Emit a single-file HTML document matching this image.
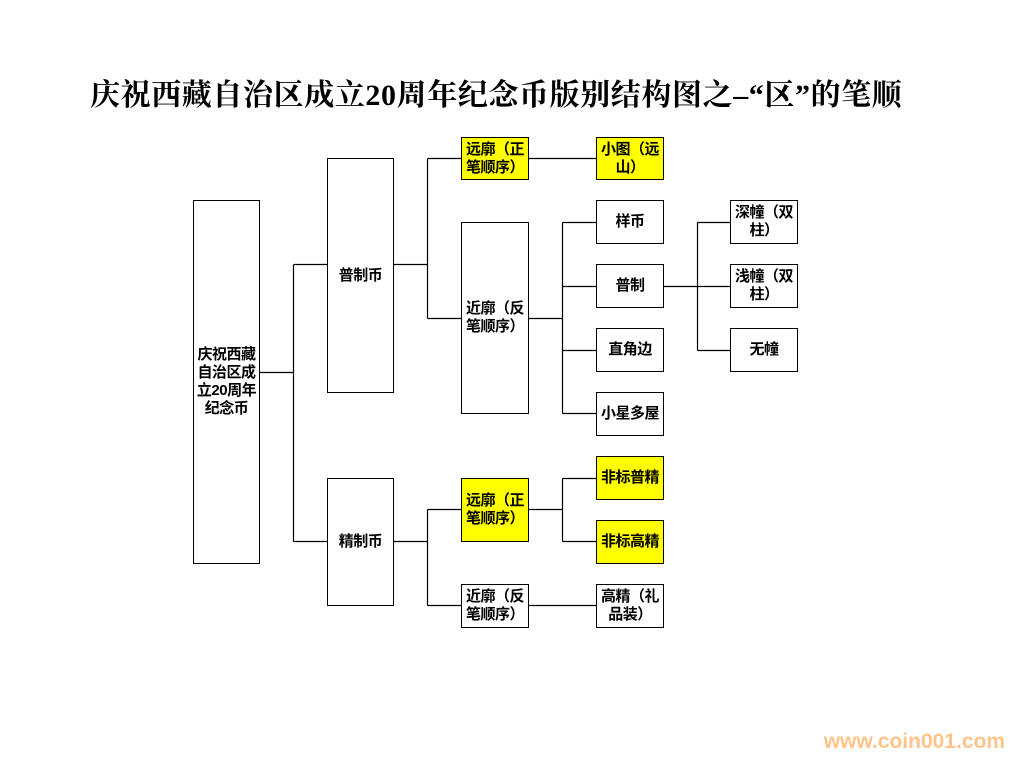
<!DOCTYPE html><html><head><meta charset="utf-8"><style>
body{margin:0;width:1018px;height:771px;background:#fff;position:relative;overflow:hidden;font-family:"Liberation Sans","Noto Sans CJK SC",sans-serif}
.b{position:absolute;box-sizing:border-box;border:1px solid #000;background:#fff;display:flex;align-items:center;justify-content:center;text-align:center;font-size:15px;font-weight:bold;line-height:18px;color:#000;white-space:nowrap;letter-spacing:-0.5px}
.y{background:#ffff00}
.t{position:absolute;left:90px;top:70px;font-size:30px;font-family:"Liberation Serif","Noto Serif CJK SC",serif;font-weight:bold;white-space:nowrap;letter-spacing:0.6px}
.w{position:absolute;right:13px;top:730px;font-size:21px;font-weight:bold;color:#ffc48a}
svg{position:absolute;left:0;top:0}
</style></head><body>
<div class="t">庆祝西藏自治区成立20周年纪念币版别结构图之–“区”的笔顺</div>
<svg width="1018" height="771"><g stroke="#000" stroke-width="1.2" fill="none" transform="translate(0.5,0.5)">
<path d="M259 372H293M293 264V541M293 264H327M293 541H327"/>
<path d="M393 264H427M427 158V318M427 158H461M427 318H461"/>
<path d="M528 158H596"/>
<path d="M528 318H562M562 222V413M562 222H596M562 286H596M562 350H596M562 413H596"/>
<path d="M663 286H697M697 222V350M697 222H730M697 286H730M697 350H730"/>
<path d="M393 541H427M427 509V605M427 509H461M427 605H461"/>
<path d="M528 509H562M562 478V541M562 478H596M562 541H596"/>
<path d="M528 605H596"/>
</g></svg>
<div class="b" style="left:193px;top:200px;width:67px;height:364px">庆祝西藏<br>自治区成<br>立20周年<br>纪念币</div>
<div class="b" style="left:327px;top:158px;width:67px;height:235px">普制币</div>
<div class="b" style="left:327px;top:478px;width:67px;height:128px">精制币</div>
<div class="b y" style="left:461px;top:137px;width:68px;height:43px">远廓（正<br>笔顺序）</div>
<div class="b" style="left:461px;top:222px;width:68px;height:192px">近廓（反<br>笔顺序）</div>
<div class="b y" style="left:596px;top:137px;width:68px;height:43px">小图（远<br>山）</div>
<div class="b" style="left:596px;top:200px;width:68px;height:44px">样币</div>
<div class="b" style="left:596px;top:264px;width:68px;height:44px">普制</div>
<div class="b" style="left:596px;top:328px;width:68px;height:44px">直角边</div>
<div class="b" style="left:596px;top:392px;width:68px;height:44px">小星多屋</div>
<div class="b" style="left:730px;top:200px;width:68px;height:44px">深幢（双<br>柱）</div>
<div class="b" style="left:730px;top:264px;width:68px;height:44px">浅幢（双<br>柱）</div>
<div class="b" style="left:730px;top:328px;width:68px;height:44px">无幢</div>
<div class="b y" style="left:461px;top:478px;width:68px;height:64px">远廓（正<br>笔顺序）</div>
<div class="b" style="left:461px;top:584px;width:68px;height:44px">近廓（反<br>笔顺序）</div>
<div class="b y" style="left:596px;top:456px;width:68px;height:44px">非标普精</div>
<div class="b y" style="left:596px;top:520px;width:68px;height:44px">非标高精</div>
<div class="b" style="left:596px;top:584px;width:68px;height:44px">高精（礼<br>品装）</div>
<div class="w">www.coin001.com</div>
</body></html>
